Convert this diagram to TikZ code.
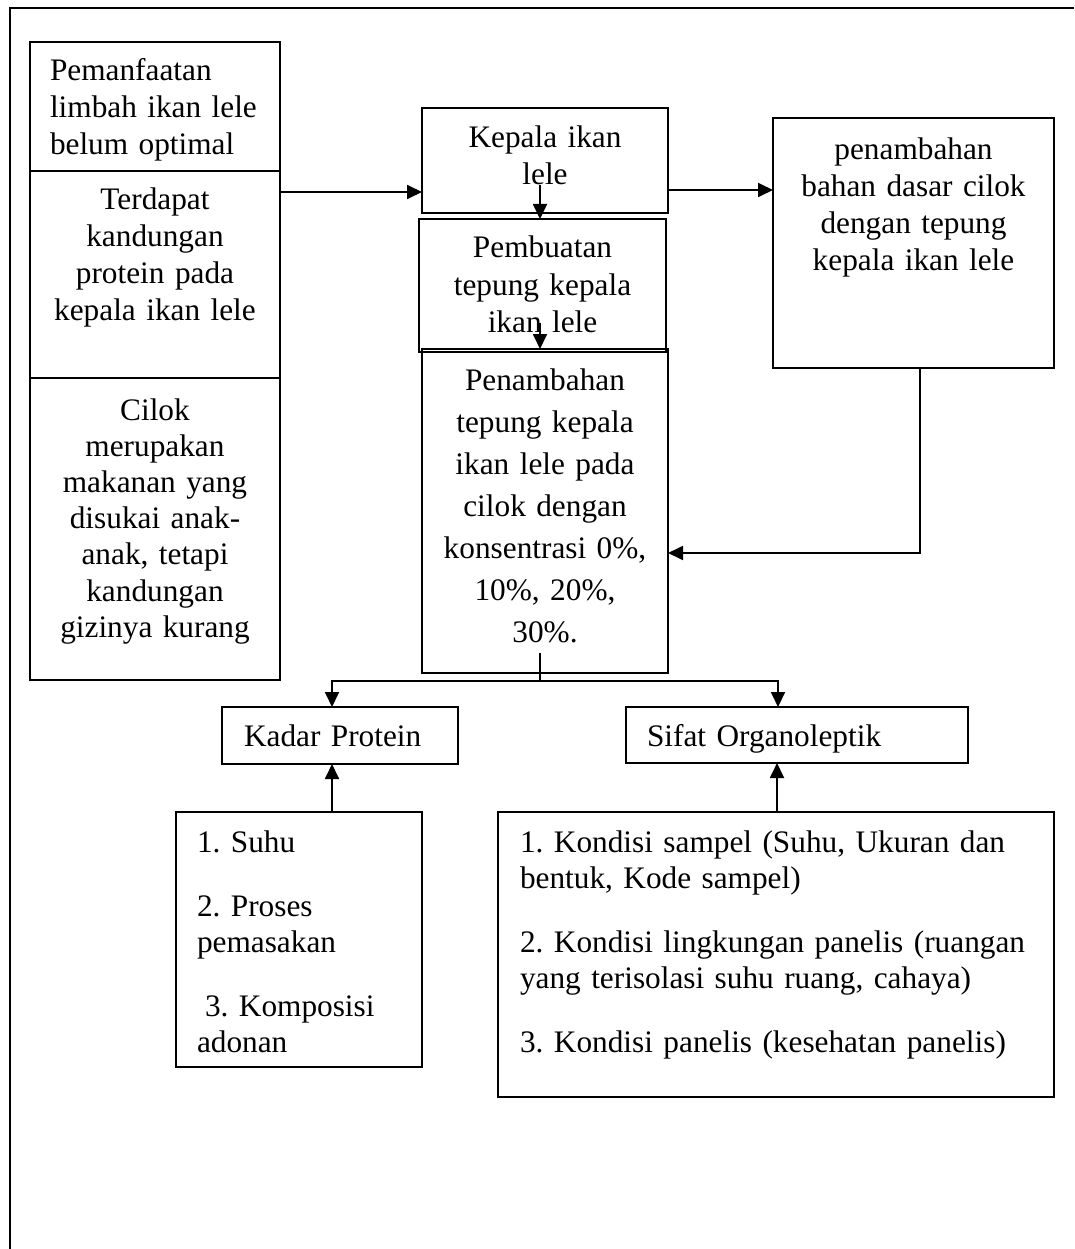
\documentclass[tikz,border=0pt]{standalone}
\usepackage{fontspec}
\setmainfont{Liberation Serif}
\usetikzlibrary{arrows.meta}
\frenchspacing
\hyphenpenalty=10000
\exhyphenpenalty=10000

\begin{document}
\begin{tikzpicture}[x=1pt,y=-1pt,>={Triangle[length=15pt,width=14pt]},
  kotak/.style={draw, line width=1.8pt, anchor=north west, inner xsep=8pt, inner ysep=0pt, outer sep=0pt, align=center, font=\fontsize{31.3}{37}\selectfont},
  kiri/.style={align=left, inner xsep=21pt},
  panah/.style={->, line width=1.8pt},
  garis/.style={line width=1.8pt}]
\useasboundingbox (0,0) rectangle (1074,1249);
\draw[line width=2.5pt] (1074,8) -- (10,8) -- (10,1249);

% latar belakang
\node[kotak, kiri, inner xsep=20pt, text width=210pt, text height=39pt, text depth=90pt] (masalah1) at (30,42) {Pemanfaatan\\ limbah ikan lele\\ belum optimal};
\node[kotak, text width=234pt, text height=39pt, text depth=168pt] (masalah2) at (30,171) {Terdapat\\ kandungan\\ protein pada\\ kepala ikan lele};
\node[kotak, text width=234pt, text height=42pt, text depth=260pt, font=\fontsize{31.3}{36.2}\selectfont] (masalah3) at (30,378) {Cilok\\ merupakan\\ makanan yang\\ disukai anak-\\ anak, tetapi\\ kandungan\\ gizinya kurang};

% alur
\node[kotak, text width=230pt, text height=40pt, text depth=65pt] (kepala) at (422,108) {Kepala ikan\\ lele};
\node[kotak, text width=231pt, text height=39pt, text depth=94pt] (tepung) at (419,219) {Pembuatan\\ tepung kepala\\ ikan lele};
\node[kotak, text width=230pt, text height=41pt, text depth=283pt, font=\fontsize{31.3}{42}\selectfont] (penambahan) at (422,349) {Penambahan\\ tepung kepala\\ ikan lele pada\\ cilok dengan\\ konsentrasi 0\%,\\ 10\%, 20\%,\\ 30\%.};
\node[kotak, text width=265pt, text height=42pt, text depth=208pt] (bahandasar) at (773,118) {penambahan\\ bahan dasar cilok\\ dengan tepung\\ kepala ikan lele};

% hasil
\node[kotak, kiri, inner xsep=22pt, text width=192pt, text height=39pt, text depth=18pt] (protein) at (222,707) {Kadar Protein};
\node[kotak, kiri, text width=300pt, text height=39pt, text depth=17pt] (organo) at (626,707) {Sifat Organoleptik};
\node[kotak, kiri, text width=204pt, text height=40pt, text depth=215pt, font=\fontsize{31.3}{36}\selectfont] (faktorprotein) at (176,812) {1. Suhu\\[28pt] 2. Proses\\ pemasakan\\[28pt] \hspace*{8pt}3. Komposisi\\ adonan};
\node[kotak, kiri, inner xsep=22pt, text width=512pt, text height=40pt, text depth=245pt, font=\fontsize{31.3}{36}\selectfont] (faktororgano) at (498,812) {1. Kondisi sampel (Suhu, Ukuran dan\\ bentuk, Kode sampel)\\[28pt] 2. Kondisi lingkungan panelis (ruangan\\ yang terisolasi suhu ruang, cahaya)\\[28pt] 3. Kondisi panelis (kesehatan panelis)};

\coordinate (turun1) at (540,185);
\coordinate (turun2) at (540,323);
\coordinate (cabang0) at (540,653);
\coordinate (cabang) at (540,681);

\draw[panah] (masalah2.east |- 0,192) -- (kepala.west |- 0,192);
\draw[panah] (kepala.east |- 0,190) -- (bahandasar.west |- 0,190);
\draw[panah] (turun1) -- (turun1 |- tepung.north);
\draw[panah] (turun2) -- (turun2 |- penambahan.north);
\draw[panah] (bahandasar.south -| 920,0) |- (penambahan.east |- 0,553);
\draw[garis] (cabang0) -- (cabang);
\draw[panah] (cabang) -| ([xshift=-8pt]protein.north);
\draw[panah] (cabang) -| ([xshift=-19pt]organo.north);
\draw[panah] (faktorprotein.north -| 332,0) -- (protein.south -| 332,0);
\draw[panah] (faktororgano.north -| 777,0) -- (organo.south -| 777,0);
\end{tikzpicture}
\end{document}
